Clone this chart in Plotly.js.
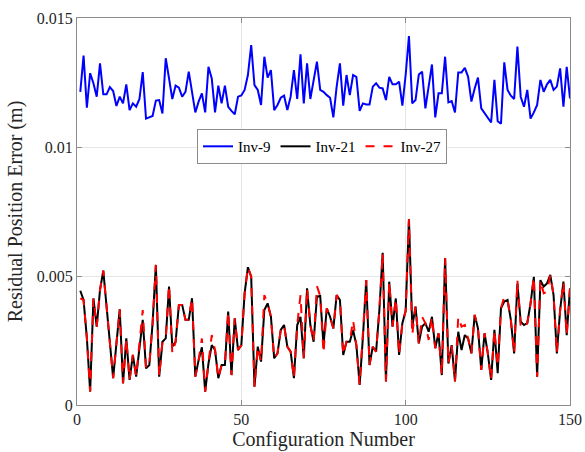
<!DOCTYPE html>
<html>
<head>
<meta charset="utf-8">
<script src="https://cdn.plot.ly/plotly-3.0.1.min.js"></script>
<style>html,body{margin:0;padding:0;background:#fff}#chart{width:585px;height:452px}</style>
</head>
<body>
<div id="chart"></div>
<script>
// Configuration numbers 1..150
const config = Array.from({length: 150}, (_, i) => i + 1);

// Residual position error, in millimetres (converted to metres for plotting)
const inv9_mm = [
12.14,13.54,11.52,12.86,12.47,11.95,13.24,12.04,12.04,12.32,
12.17,11.59,11.95,11.69,12.43,11.43,11.69,11.56,11.86,12.90,
11.10,11.15,11.20,11.80,11.82,11.30,13.44,12.66,11.86,12.38,
12.30,11.95,12.14,12.92,12.14,11.34,11.76,12.08,11.34,13.11,
12.66,11.34,12.38,11.69,12.38,11.56,11.40,11.27,11.95,12.00,
12.21,12.79,13.95,12.40,12.21,11.63,13.50,12.69,12.98,11.43,
11.63,11.91,11.99,11.43,11.95,12.98,11.86,13.59,11.69,13.24,
11.86,12.53,13.31,12.21,12.14,12.01,11.91,11.15,12.34,13.24,
11.60,12.79,12.01,12.79,12.72,11.40,11.69,11.65,11.65,12.34,
12.47,12.30,12.27,11.82,12.72,12.43,12.43,12.53,11.60,12.80,
14.30,11.69,11.82,12.81,12.92,11.50,12.34,13.20,11.15,12.08,
12.08,13.50,11.73,11.78,11.34,12.89,12.89,13.07,12.72,11.76,
12.27,12.69,11.50,11.30,11.10,10.95,12.60,11.00,10.90,13.28,
12.21,11.99,11.86,13.89,11.95,11.56,12.21,11.10,11.34,11.63,
12.60,12.14,12.43,12.60,12.21,12.34,13.05,11.56,13.11,11.88];

const inv21_mm = [
4.43,4.07,2.60,0.52,4.13,3.04,4.46,5.21,3.81,2.39,
1.04,2.39,3.71,0.84,2.58,0.97,1.94,1.10,2.26,3.30,
1.42,1.55,3.17,5.43,1.10,2.45,2.58,4.59,2.26,2.45,
3.88,3.88,3.30,3.30,4.14,1.10,1.74,2.24,0.52,1.61,
2.32,2.13,1.04,1.55,1.55,3.62,1.16,3.36,2.13,2.32,
4.33,5.34,4.97,0.71,2.26,1.68,3.68,3.94,3.42,1.81,
2.00,2.91,3.10,2.26,2.07,1.04,3.10,3.42,1.81,4.52,
3.10,2.45,4.20,4.23,2.32,3.75,3.42,2.97,4.26,4.07,
1.94,2.45,2.45,2.91,2.32,0.78,2.65,4.84,1.55,2.26,
2.07,3.68,5.90,0.91,4.78,3.04,4.13,1.94,3.17,3.65,
7.20,3.04,3.81,2.39,3.04,3.17,2.84,3.42,2.20,2.78,
1.16,5.70,1.61,2.32,0.91,2.84,2.13,2.71,2.58,2.00,
3.49,2.97,1.36,2.78,2.00,0.97,2.91,1.23,3.75,4.01,
4.07,3.30,2.00,4.71,3.23,3.10,3.17,3.94,4.97,1.10,
4.84,4.59,4.71,5.04,4.26,2.00,3.68,4.78,2.71,4.52];

const inv27_mm = [
4.13,4.07,2.60,0.52,4.13,3.04,4.46,5.21,3.81,2.39,
1.04,2.39,3.71,0.84,2.58,0.97,1.94,1.10,2.26,3.68,
1.42,1.55,3.17,5.43,1.10,2.45,2.58,4.65,2.00,2.45,
3.88,3.88,3.30,3.30,4.14,1.10,1.74,2.58,0.52,1.61,
2.71,2.13,1.04,1.55,1.55,3.62,1.16,3.36,2.13,2.32,
4.33,5.34,4.97,0.71,2.26,1.68,4.26,3.94,3.42,1.81,
2.00,2.91,3.10,2.26,2.07,1.04,3.10,4.26,1.81,4.52,
3.10,2.45,4.61,4.23,2.00,3.75,3.42,2.97,4.26,4.07,
1.94,2.45,2.45,3.30,2.32,0.78,2.65,4.84,1.55,2.26,
2.07,3.68,5.90,0.91,4.78,3.04,4.13,1.94,3.17,3.65,
7.20,2.71,3.81,2.39,3.42,3.17,2.52,3.42,2.20,2.78,
1.16,5.70,1.61,2.32,0.91,3.42,3.04,3.10,2.58,2.00,
3.49,2.97,1.36,2.78,2.00,0.97,2.91,1.49,3.75,4.20,
4.07,3.30,2.00,4.84,3.04,2.97,3.17,3.94,4.97,1.10,
4.84,4.33,4.39,5.04,4.26,2.00,3.68,4.78,2.71,4.52];

const seriesNames = ["Inv-9", "Inv-21", "Inv-27"];
const xTickVals = [0, 50, 100, 150];
const yTickVals = [0, 0.005, 0.01, 0.015];
const yTickText = ["0", "0.005", "0.01", "0.015"];

const toM = a => a.map(v => v / 1000);

const traces = [
  {x: config, y: toM(inv9_mm), name: seriesNames[0], type: "scatter", mode: "lines",
   line: {color: "#0000ff", width: 2}},
  {x: config, y: toM(inv21_mm), name: seriesNames[1], type: "scatter", mode: "lines",
   line: {color: "#000000", width: 2}},
  {x: config, y: toM(inv27_mm), name: seriesNames[2], type: "scatter", mode: "lines",
   line: {color: "#ff0000", width: 2, dash: "dash"}}
];

const serif = "'Liberation Serif', 'Times New Roman', serif";
const axisCommon = {
  showline: true, mirror: "ticks", linecolor: "#8c8c8c", linewidth: 1,
  ticks: "inside", ticklen: 5, tickcolor: "#8c8c8c",
  showgrid: true, gridcolor: "#e6e6e6", gridwidth: 1,
  zeroline: false, tickfont: {family: serif, size: 16, color: "#262626"}
};

const layout = {
  width: 585, height: 452,
  margin: {l: 77, r: 15, t: 18, b: 47},
  paper_bgcolor: "#ffffff", plot_bgcolor: "#ffffff",
  font: {family: serif, color: "#262626"},
  showlegend: true,
  legend: {
    orientation: "h", x: 0.497, xanchor: "center", y: 0.713, yanchor: "top",
    bgcolor: "#ffffff", bordercolor: "#8c8c8c", borderwidth: 1,
    font: {family: serif, size: 15, color: "#000000"}, itemwidth: 30
  },
  xaxis: Object.assign({}, axisCommon, {
    range: [0, 150], tickvals: xTickVals,
    title: {text: "Configuration Number", font: {family: serif, size: 20, color: "#262626"}, standoff: 4}
  }),
  yaxis: Object.assign({}, axisCommon, {
    range: [0, 0.015], tickvals: yTickVals, ticktext: yTickText,
    title: {text: "Residual Position Error (m)", font: {family: serif, size: 20, color: "#262626"}, standoff: 8}
  })
};

Plotly.newPlot("chart", traces, layout, {displayModeBar: false, staticPlot: true});
</script>
</body>
</html>
